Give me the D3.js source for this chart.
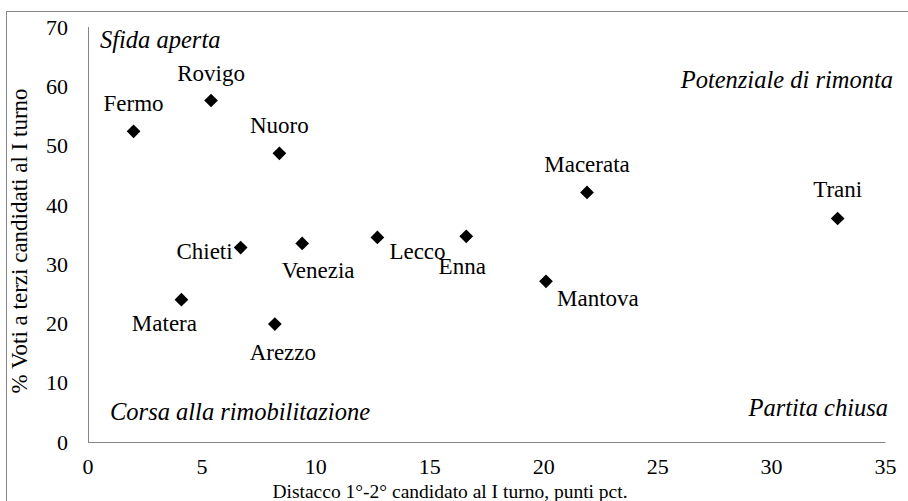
<!DOCTYPE html>
<meta charset="utf-8">
<style>
  body { margin: 0; background: #fff; }
  svg text { font-family: "Liberation Serif", Tinos, "Times New Roman", "DejaVu Serif", serif; fill: #000; }
  .tick-label { font-size: 22px; }
  .axis-title { font-size: 19.5px; }
  .axis-title.y { font-size: 23px; }
  .point-label { font-size: 23px; }
  .quadrant { font-size: 24.5px; font-style: italic; }
</style>
<body>
<div id="chart"></div>
<script src="https://d3js.org/d3.v7.min.js"></script>
<script>
  // data
  const cities = ["Fermo", "Rovigo", "Nuoro", "Chieti", "Venezia", "Matera", "Arezzo",
                  "Lecco", "Enna", "Macerata", "Mantova", "Trani"];
  const gap = [2.0, 5.4, 8.4, 6.7, 9.4, 4.1, 8.2, 12.7, 16.6, 21.9, 20.1, 32.9];
  const thirdVotes = [52.4, 57.6, 48.7, 32.8, 33.5, 24.0, 19.9, 34.5, 34.7, 42.1, 27.1, 37.7];
  const xTicks = [0, 5, 10, 15, 20, 25, 30, 35];
  const yTicks = [0, 10, 20, 30, 40, 50, 60, 70];
  const quadrants = ["Sfida aperta", "Potenziale di rimonta", "Corsa alla rimobilitazione", "Partita chiusa"];

  // where each label sits relative to its marker (layout only)
  const labelPlace = {
    Fermo:    {dx: 0,   dy: -28, anchor: "middle"},
    Rovigo:   {dx: 0,   dy: -28, anchor: "middle"},
    Nuoro:    {dx: 0,   dy: -28, anchor: "middle"},
    Chieti:   {dx: -8,  dy: 3,   anchor: "end"},
    Venezia:  {dx: 16,  dy: 27,  anchor: "middle"},
    Matera:   {dx: -17, dy: 23,  anchor: "middle"},
    Arezzo:   {dx: 8,   dy: 28,  anchor: "middle"},
    Lecco:    {dx: 12,  dy: 13,  anchor: "start"},
    Enna:     {dx: -4,  dy: 30,  anchor: "middle"},
    Macerata: {dx: 0,   dy: -28, anchor: "middle"},
    Mantova:  {dx: 11,  dy: 17,  anchor: "start"},
    Trani:    {dx: 0,   dy: -30, anchor: "middle"}
  };

  const width = 908, height = 501;
  const axisColor = "#868686";

  const x = d3.scaleLinear().domain([0, 35]).range([88, 885.5]);
  const y = d3.scaleLinear().domain([0, 70]).range([442, 27]);

  const svg = d3.select("#chart").append("svg")
    .attr("width", width)
    .attr("height", height);

  // outer chart border (cropped on the right and bottom)
  svg.append("rect")
    .attr("x", 6.5).attr("y", 11.5)
    .attr("width", 1000).attr("height", 1000)
    .attr("fill", "none")
    .attr("stroke", axisColor)
    .attr("stroke-width", 1);

  // axis lines
  svg.append("line")
    .attr("x1", Math.round(x(0)) + 0.5).attr("x2", Math.round(x(0)) + 0.5)
    .attr("y1", y(70)).attr("y2", y(0))
    .attr("stroke", axisColor);
  svg.append("line")
    .attr("x1", x(0)).attr("x2", x(35))
    .attr("y1", Math.round(y(0)) + 0.5).attr("y2", Math.round(y(0)) + 0.5)
    .attr("stroke", axisColor);

  // tick labels
  svg.selectAll("text.ytick")
    .data(yTicks)
    .join("text")
    .attr("class", "tick-label ytick")
    .attr("x", 68)
    .attr("y", d => y(d))
    .attr("dy", "0.35em")
    .attr("text-anchor", "end")
    .text(d => d);

  svg.selectAll("text.xtick")
    .data(xTicks)
    .join("text")
    .attr("class", "tick-label xtick")
    .attr("x", d => x(d))
    .attr("y", 466)
    .attr("dy", "0.35em")
    .attr("text-anchor", "middle")
    .text(d => d);

  // axis titles
  svg.append("text")
    .attr("class", "axis-title y")
    .attr("transform", "translate(27,241) rotate(-90)")
    .attr("text-anchor", "middle")
    .text("% Voti a terzi candidati al I turno");

  svg.append("text")
    .attr("class", "axis-title")
    .attr("x", 450)
    .attr("y", 498)
    .attr("text-anchor", "middle")
    .text("Distacco 1°-2° candidato al I turno, punti pct.");

  // quadrant captions
  svg.append("text").attr("class", "quadrant")
    .attr("x", 100).attr("y", 48).text(quadrants[0]);
  svg.append("text").attr("class", "quadrant")
    .attr("x", 893).attr("y", 88).attr("text-anchor", "end").text(quadrants[1]);
  svg.append("text").attr("class", "quadrant")
    .attr("x", 110).attr("y", 420).text(quadrants[2]);
  svg.append("text").attr("class", "quadrant")
    .attr("x", 888).attr("y", 416).attr("text-anchor", "end").text(quadrants[3]);

  const points = cities.map((c, i) => ({city: c, gx: gap[i], gy: thirdVotes[i]}));

  // diamond markers
  const diamond = d3.symbol().type(d3.symbolDiamond2).size(120);
  svg.selectAll("path.marker")
    .data(points)
    .join("path")
    .attr("class", "marker")
    .attr("d", diamond)
    .attr("transform", d => `translate(${x(d.gx)},${y(d.gy)})`)
    .attr("fill", "#000");

  // point labels
  svg.selectAll("text.point-label")
    .data(points)
    .join("text")
    .attr("class", "point-label")
    .attr("x", d => x(d.gx) + labelPlace[d.city].dx)
    .attr("y", d => y(d.gy) + labelPlace[d.city].dy)
    .attr("dy", "0.35em")
    .attr("text-anchor", d => labelPlace[d.city].anchor)
    .text(d => d.city);
</script>
</body>
